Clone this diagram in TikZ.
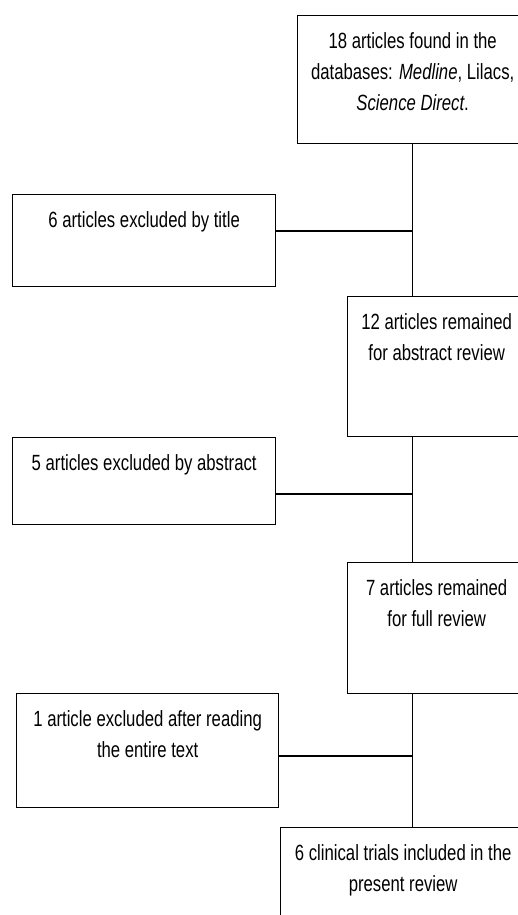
\documentclass[tikz,border=0pt]{standalone}
\usepackage{fontspec}
\setmainfont{Liberation Sans}[FakeStretch=0.76]
\newlength\px
\setlength\px{0.75pt}
\newcommand{\boxtxt}[3]{\parbox[t][#2][t]{#1}{\centering\fontsize{16.5pt}{23.25pt}\selectfont
\rule{0pt}{24.75pt}#3\par}}
\begin{document}
\begin{tikzpicture}[x=\px,y=-\px,line width=1pt,
stepbox/.style={draw=black,rectangle,inner sep=0pt,anchor=north west}]
\useasboundingbox (0,0) rectangle (518,915);
\clip (0,0) rectangle (518,915);
% main column
\node[stepbox] (found) at (297,15) {\boxtxt{230\px}{128\px}{18 articles found in the\\databases: \textit{Medline}, Lilacs,\\\textit{Science Direct}.}};
\node[stepbox] (abstr) at (347,296) {\boxtxt{178\px}{140\px}{12 articles remained\\for abstract review}};
\node[stepbox] (full) at (347,562) {\boxtxt{178\px}{131\px}{7 articles remained\\for full review}};
\node[stepbox] (trials) at (280,827) {\boxtxt{245\px}{120\px}{6 clinical trials included in the\\present review}};
% excluded
\node[stepbox] (bytitle) at (12,194) {\boxtxt{263\px}{92\px}{6 articles excluded by title}};
\node[stepbox] (byabs) at (12,437) {\boxtxt{263\px}{87\px}{5 articles excluded by abstract}};
\node[stepbox] (bytext) at (16,693) {\boxtxt{262\px}{114\px}{1 article excluded after reading\\the entire text}};
\coordinate (j1) at (found.south |- 0,231);
\coordinate (j2) at (found.south |- 0,494);
\coordinate (j3) at (found.south |- 0,756);
\draw (found.south)--(found.south |- abstr.north);
\draw (found.south |- abstr.south)--(found.south |- full.north);
\draw (found.south |- full.south)--(found.south |- trials.north);
\draw (bytitle.east |- j1)--(j1);
\draw (byabs.east |- j2)--(j2);
\draw (bytext.east |- j3)--(j3);
\end{tikzpicture}
\end{document}
